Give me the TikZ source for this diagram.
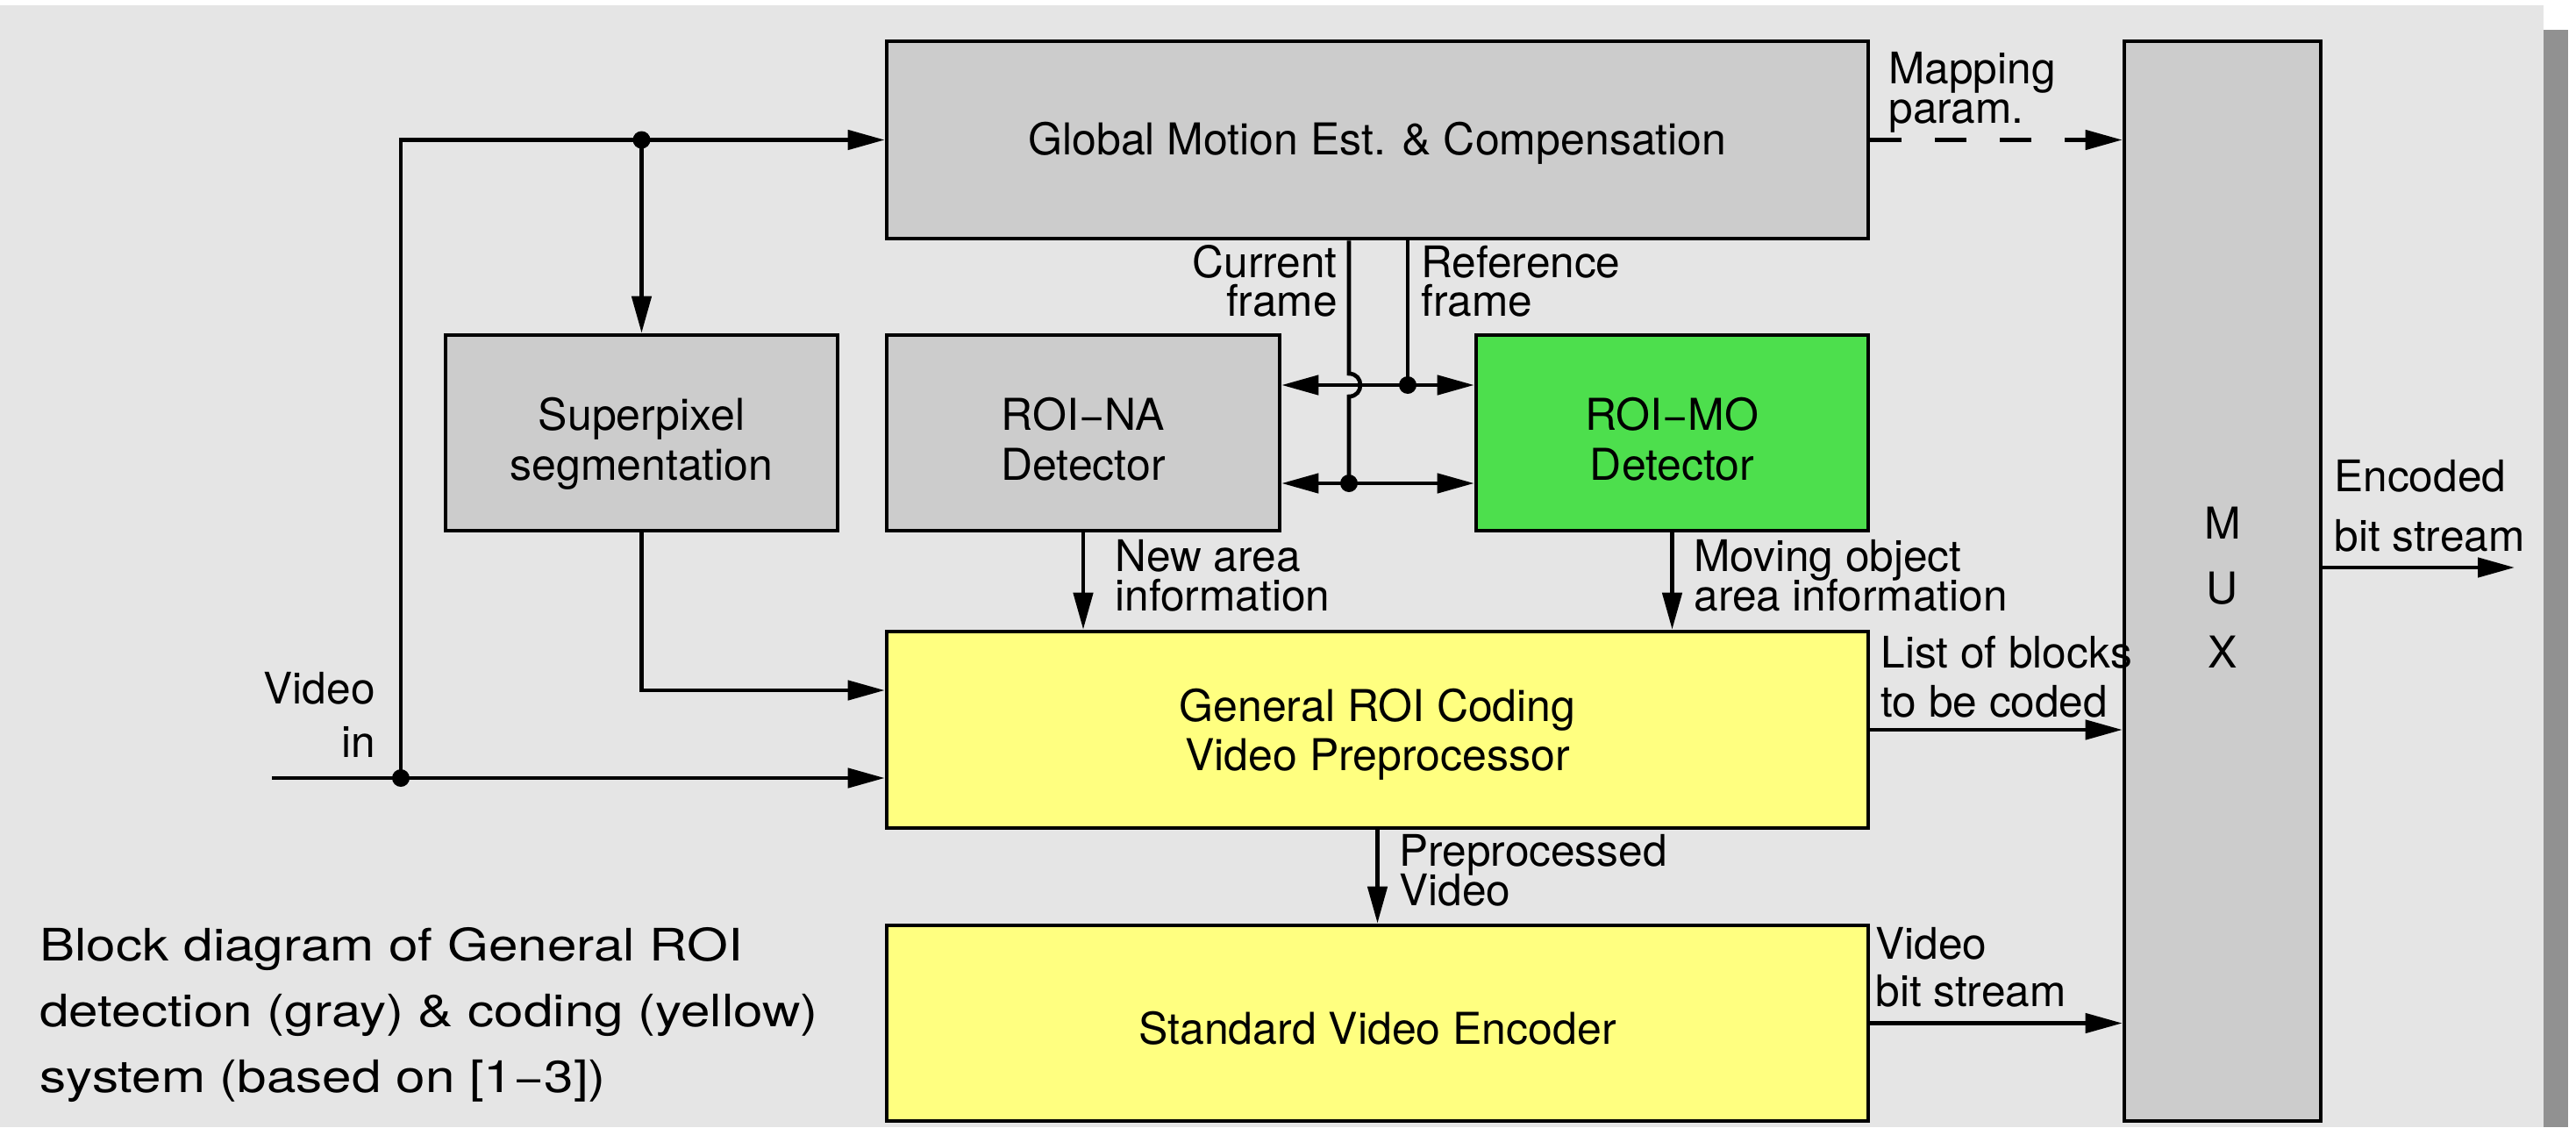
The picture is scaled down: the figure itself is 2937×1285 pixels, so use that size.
\documentclass[tikz,border=0pt]{standalone}
\usepackage{fontspec}
\setmainfont{TeX Gyre Heros}
\newfontfamily\capfamily[FakeStretch=1.18]{TeX Gyre Heros}
\usetikzlibrary{arrows.meta,calc}
\definecolor{bggray}{HTML}{E5E5E5}
\definecolor{shadowgray}{HTML}{919191}
\definecolor{boxgray}{HTML}{CCCCCC}
\definecolor{roigreen}{HTML}{4DDF4D}
\definecolor{roiyellow}{HTML}{FFFF80}
\newcommand{\boxfont}{\fontsize{25}{28}\selectfont}
\newcommand{\lblfont}{\fontsize{24.8}{26}\selectfont}
\newcommand{\capfont}{\capfamily\fontsize{25.5}{30}\selectfont}
\tikzset{
  blk/.style={draw, line width=2.3pt, rectangle, inner sep=0pt},
  btxt/.style={font=\boxfont, inner sep=0pt, anchor=base},
  lbl/.style={inner sep=0pt, font=\lblfont},
  captxt/.style={inner sep=0pt, font=\capfont, anchor=base west},
  conn/.style={line width=2.3pt},
  arr/.style={conn, -{Triangle[length=21pt,width=11pt]}},
  darr/.style={conn, {Triangle[length=21pt,width=11pt]}-{Triangle[length=21pt,width=11pt]}},
  jdot/.style={circle, fill=black, inner sep=0pt, minimum size=10pt},
}
\begin{document}
\begin{tikzpicture}[x=0.5pt, y=-0.5pt]
\useasboundingbox (0,0) rectangle (2937,1285);
\fill[white] (0,0) rectangle (2937,1285);
\fill[shadowgray] (2900,34) rectangle (2928,1285);
\fill[bggray] (0,6) rectangle (2900,1285);

% blocks
\node[blk, fill=boxgray, minimum width=559.5pt, minimum height=112.5pt] (GM) at (1570.5,159.5) {};
\node[blk, fill=boxgray, minimum width=223.5pt, minimum height=111.5pt] (SP) at (731.5,493.5) {};
\node[blk, fill=boxgray, minimum width=224pt, minimum height=111.5pt] (NA) at (1235,493.5) {};
\node[blk, fill=roigreen, minimum width=223.5pt, minimum height=111.5pt] (MO) at (1906.5,493.5) {};
\node[blk, fill=roiyellow, minimum width=559.5pt, minimum height=112pt] (GR) at (1570.5,832) {};
\node[blk, fill=roiyellow, minimum width=559.5pt, minimum height=111.5pt] (SVE) at (1570.5,1166.5) {};
\node[blk, fill=boxgray, minimum width=112pt, minimum height=615.5pt] (MUX) at (2534,662.5) {};

% block texts
\node[btxt] (GMt) at ($(GM.center)+(0,16.5)$) {Global Motion Est. \& Compensation};
\node[btxt] (SPt1) at ($(SP.center)+(0,-3.5)$) {Superpixel};
\node[btxt] (SPt2) at ($(SP.center)+(0,53.5)$) {segmentation};
\node[btxt] (NAt1) at ($(NA.center)+(0,-3.5)$) {ROI−NA};
\node[btxt] (NAt2) at ($(NA.center)+(0,53.5)$) {Detector};
\node[btxt] (MOt1) at ($(MO.center)+(0,-3.5)$) {ROI−MO};
\node[btxt] (MOt2) at ($(MO.center)+(0,53.5)$) {Detector};
\node[btxt] (GRt1) at ($(GR.center)+(0,-10)$) {General ROI Coding};
\node[btxt] (GRt2) at ($(GR.center)+(0,46)$) {Video Preprocessor};
\node[btxt] (SVEt) at ($(SVE.center)+(0,24)$) {Standard Video Encoder};
\node[btxt] (muxM) at (2534,614) {M};
\node[btxt] (muxU) at (2534,688) {U};
\node[btxt] (muxX) at (2534,761) {X};

% coordinates
\coordinate (vin) at (310,887);
\coordinate (d1) at (457,887);
\coordinate (d2) at (SP.north |- GM.west);
\coordinate (spin) at (0,787);
\coordinate (hu) at (1605,439);
\coordinate (cf) at (1538,551);
\coordinate (eout) at (2867,647);

% connectors
\draw[arr] (vin) -- (vin -| GR.west);
\draw[arr] (d1) |- (GM.west);
\draw[arr] (d2) -- (SP.north);
\draw[arr] (SP.south) |- (spin -| GR.west);
\draw[arr] (NA.south) -- (NA.south |- GR.north);
\draw[arr] (MO.south) -- (MO.south |- GR.north);
\draw[arr] (GR.south) -- (SVE.north);
\draw[arr, dash pattern=on 18pt off 19pt] (GM.east) -- (GM.east -| MUX.west);
\draw[arr] (GR.east) -- (GR.east -| MUX.west);
\draw[arr] (SVE.east) -- (SVE.east -| MUX.west);
\draw[arr] (eout -| MUX.east) -- (eout);
\draw[conn] (GM.south -| hu) -- (hu);
\draw[conn] (GM.south -| cf) -- ($(cf)+(0,-125)$) .. controls ($(cf)+(17.3,-125)$) and ($(cf)+(17.3,-99)$) .. ($(cf)+(0,-99)$) -- (cf);
\draw[darr] (NA.east |- hu) -- (MO.west |- hu);
\draw[darr] (NA.east |- cf) -- (MO.west |- cf);

% junction dots
\node[jdot] (dotA) at (d1) {};
\node[jdot] (dotB) at (d2) {};
\node[jdot] (dotC) at (hu) {};
\node[jdot] (dotD) at (cf) {};

% labels
\node[lbl, anchor=base west] (mapA) at (2153,95) {Mapping};
\node[lbl, anchor=base west] (mapB) at (2153,140) {param.};
\node[lbl, anchor=base east] (curA) at (1525,316) {Current};
\node[lbl, anchor=base east] (curB) at (1525,360) {frame};
\node[lbl, anchor=base west] (refA) at (1620,316) {Reference};
\node[lbl, anchor=base west] (refB) at (1620,360) {frame};
\node[lbl, anchor=base west] (newA) at (1271,651) {New area};
\node[lbl, anchor=base west] (newB) at (1271,696) {information};
\node[lbl, anchor=base west] (movA) at (1931,651) {Moving object};
\node[lbl, anchor=base west] (movB) at (1931,696) {area information};
\node[lbl, anchor=base west] (lstA) at (2144,761) {List of blocks};
\node[lbl, anchor=base west] (lstB) at (2144,817) {to be coded};
\node[lbl, anchor=base west] (preA) at (1595,987) {Preprocessed};
\node[lbl, anchor=base west] (preB) at (1595,1032) {Video};
\node[lbl, anchor=base west] (vbsA) at (2138,1093) {Video};
\node[lbl, anchor=base west] (vbsB) at (2138,1147) {bit stream};
\node[lbl, anchor=base west] (encA) at (2661,560) {Encoded};
\node[lbl, anchor=base west] (encB) at (2661,628) {bit stream};
\node[lbl, anchor=base east] (vinA) at (428,802) {Video};
\node[lbl, anchor=base east] (vinB) at (428,863) {in};

% caption
\node[captxt] (capA) at (45,1095) {Block diagram of General ROI};
\node[captxt] (capB) at (45,1170) {detection (gray) \& coding (yellow)};
\node[captxt] (capC) at (45,1245) {system (based on [1−3])};
\end{tikzpicture}
\end{document}
